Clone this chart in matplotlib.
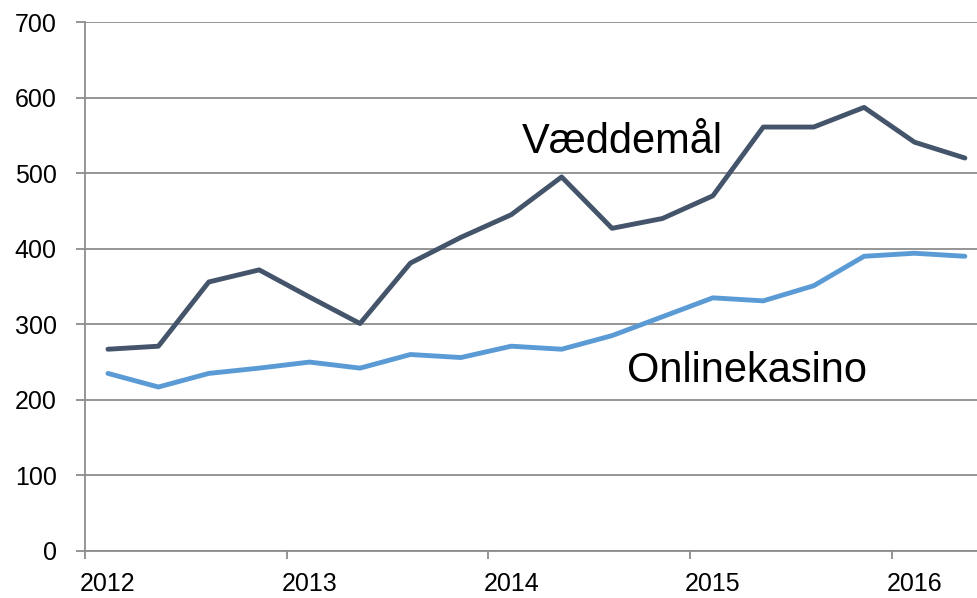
import numpy as np
import matplotlib
matplotlib.use('Agg')
import matplotlib.pyplot as plt

# Data (quarterly, 2012 Q1 - 2016 Q2)
vaeddemaal = [267, 271, 356, 372, 336, 301, 381, 415, 445, 495, 427, 440,
              470, 561, 561, 587, 541, 520]
onlinekasino = [235, 217, 235, 242, 250, 242, 260, 256, 271, 267, 285, 310,
                335, 331, 351, 390, 394, 390]
year_labels = ['2012', '2013', '2014', '2015', '2016']

# Style
c_dark  = '#44546A'
c_light = '#5B9BD5'
c_axis  = '#8C8C8C'
plt.rcParams['font.family'] = ['Liberation Sans', 'DejaVu Sans']

x = np.arange(len(vaeddemaal))
tick_off = 0.456   # year boundary sits this far left of the Q1 point

fig = plt.figure(figsize=(9.78, 5.98), dpi=100)
ax = fig.add_axes([0.0869, 0.0786, 1.0 - 0.0869, 0.9632 - 0.0786])

ax.plot(x, vaeddemaal,   color=c_dark,  lw=3.5, solid_capstyle='round', zorder=3)
ax.plot(x, onlinekasino, color=c_light, lw=3.5, solid_capstyle='round', zorder=3)

ax.set_ylim(0, 700)
ax.set_xlim(-tick_off, 17.26)
ax.set_yticks(np.arange(0, 701, 100))
ax.yaxis.grid(True, color=c_axis, lw=1.3)
ax.set_axisbelow(True)

# year boundary tick marks, labels centred on Q1 points
ax.set_xticks([4 * i - tick_off for i in range(len(year_labels))])
ax.set_xticklabels([])
ax.set_xticks([4 * i for i in range(len(year_labels))], minor=True)
ax.set_xticklabels(year_labels, minor=True)
ax.tick_params(axis='x', which='major', length=6, width=1.3, color=c_axis, direction='out')
ax.tick_params(axis='x', which='minor', length=0, pad=15, labelsize=18)
ax.tick_params(axis='y', length=6.5, width=1.3, color=c_axis, pad=14, labelsize=18)

for side in ['top', 'right']:
    ax.spines[side].set_visible(False)
for side in ['left', 'bottom']:
    ax.spines[side].set_color(c_axis)
    ax.spines[side].set_linewidth(1.3)

ax.text(8.21, 527, 'Væddemål', fontsize=30, ha='left', va='baseline')
ax.text(10.3, 224, 'Onlinekasino', fontsize=30, ha='left', va='baseline')

fig.savefig('out.png', dpi=100)
